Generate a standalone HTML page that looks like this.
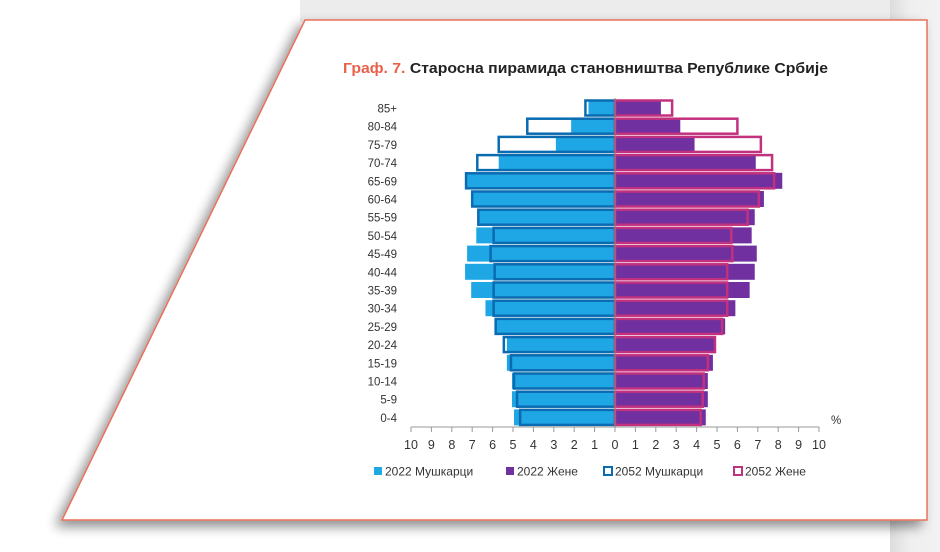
<!DOCTYPE html>
<html><head><meta charset="utf-8"><style>
html,body{margin:0;padding:0;width:940px;height:552px;overflow:hidden;background:#fff;font-family:"Liberation Sans","DejaVu Sans",sans-serif}
</style></head><body>
<svg width="940" height="552" viewBox="0 0 940 552">
<defs>
<filter id="sh" x="-10%" y="-10%" width="120%" height="125%"><feGaussianBlur in="SourceAlpha" stdDeviation="6"/><feOffset dx="-6" dy="6"/><feComponentTransfer><feFuncA type="linear" slope="0.45"/></feComponentTransfer><feMerge><feMergeNode/><feMergeNode in="SourceGraphic"/></feMerge></filter>
<linearGradient id="rg" x1="0" x2="1"><stop offset="0" stop-color="#dcdcdc"/><stop offset="0.4" stop-color="#efefef"/><stop offset="1" stop-color="#f2f2f2"/></linearGradient>
</defs>
<rect x="0" y="0" width="940" height="552" fill="#fff"/>
<rect x="300" y="0" width="590" height="22" fill="#ececec"/>
<rect x="890" y="0" width="50" height="552" fill="url(#rg)"/>
<polygon points="305,20 927,20 927,520 62,520" fill="#fff" stroke="#e8705a" stroke-width="1.5" filter="url(#sh)"/>
<text x="343" y="73" font-size="14.5" font-weight="bold" fill="#222" font-family="'Liberation Sans',sans-serif" textLength="485" lengthAdjust="spacingAndGlyphs"><tspan fill="#e8614a">Граф. 7.</tspan> Старосна пирамида становништва Републике Србије</text>
<g id="chart"></g>
</svg>
<script>
const ageGroups=["85+","80-84","75-79","70-74","65-69","60-64","55-59","50-54","45-49","40-44","35-39","30-34","25-29","20-24","15-19","10-14","5-9","0-4"];
const male2022=[1.3,2.15,2.9,5.7,7.25,6.95,6.7,6.8,7.25,7.35,7.05,6.35,5.85,5.3,5.3,5.05,5.05,4.95];
const female2022=[2.25,3.2,3.9,6.9,8.2,7.3,6.85,6.7,6.95,6.85,6.6,5.9,5.4,4.9,4.8,4.55,4.55,4.45];
const male2052=[1.45,4.3,5.7,6.75,7.3,7.0,6.7,5.95,6.1,5.9,5.95,5.95,5.85,5.45,5.1,4.95,4.8,4.65];
const female2052=[2.8,6.0,7.15,7.7,7.8,7.05,6.5,5.7,5.75,5.5,5.5,5.5,5.25,4.9,4.55,4.35,4.3,4.2];
const xTicks=[10,9,8,7,6,5,4,3,2,1,0,1,2,3,4,5,6,7,8,9,10];
const legendLabels=["2022 Мушкарци","2022 Жене","2052 Мушкарци","2052 Жене"];
const NS="http://www.w3.org/2000/svg";
const g=document.getElementById('chart');
const x0=615,unit=20.4,y0=108,step=18.2,bh=16;
const xs=v=>x0+v*unit;
const yc=i=>y0+i*step;
function el(t,a){const e=document.createElementNS(NS,t);for(const k in a)e.setAttribute(k,a[k]);g.appendChild(e);return e;}
ageGroups.forEach((lab,i)=>{
 const y=yc(i);
 let t=el('text',{x:397,y:y+4.5,'font-size':11.5,fill:'#333','text-anchor':'end'});t.textContent=lab;
 
 
 let r=el('rect',{x:xs(-male2022[i]),y:y-bh/2,width:male2022[i]*unit,height:bh,fill:'#1ea7e4'});
 
 
 r=el('rect',{x:x0,y:y-bh/2,width:female2022[i]*unit,height:bh,fill:'#7030a0'});
 
 
});
ageGroups.forEach((lab,i)=>{
 const y=yc(i);
 let r=el('rect',{x:xs(-male2052[i]),y:y-bh/2+0.5,width:male2052[i]*unit,height:bh-1,fill:'none',stroke:'#0a6bb0','stroke-width':2.5});
 
 
 r=el('rect',{x:x0,y:y-bh/2+0.5,width:female2052[i]*unit,height:bh-1,fill:'none',stroke:'#c2317e','stroke-width':2.5});
 
 
});
let ax=el('line',{x1:xs(-10),x2:xs(10),y1:427,y2:427,stroke:'#999','stroke-width':1});


let zl=el('line',{x1:x0,x2:x0,y1:98,y2:427,stroke:'#888','stroke-width':1});


xTicks.forEach((v,k)=>{
 const x=xs(k-10);
 let tk=el('line',{x1:x,x2:x,y1:427,y2:432,stroke:'#999'});
 
 
 let t=el('text',{x:x,y:449,'font-size':12.5,fill:'#333','text-anchor':'middle'});t.textContent=v;
 
 
});
let pc=el('text',{x:831,y:424,'font-size':11.5,fill:'#333'});pc.textContent='%';


const lx=[373,505,603,733];
legendLabels.forEach((l,k)=>{
 const sw=el('rect',{x:lx[k]+1,y:467,width:8,height:8,fill:k<2?(k==0?'#1ea7e4':'#7030a0'):'#fff',stroke:k<2?'none':(k==2?'#0a6bb0':'#c2317e'),'stroke-width':2});
 
 
 const t=el('text',{x:lx[k]+12,y:475.5,'font-size':12,fill:'#333'});t.textContent=l;
 
 
});
</script>
</body></html>
